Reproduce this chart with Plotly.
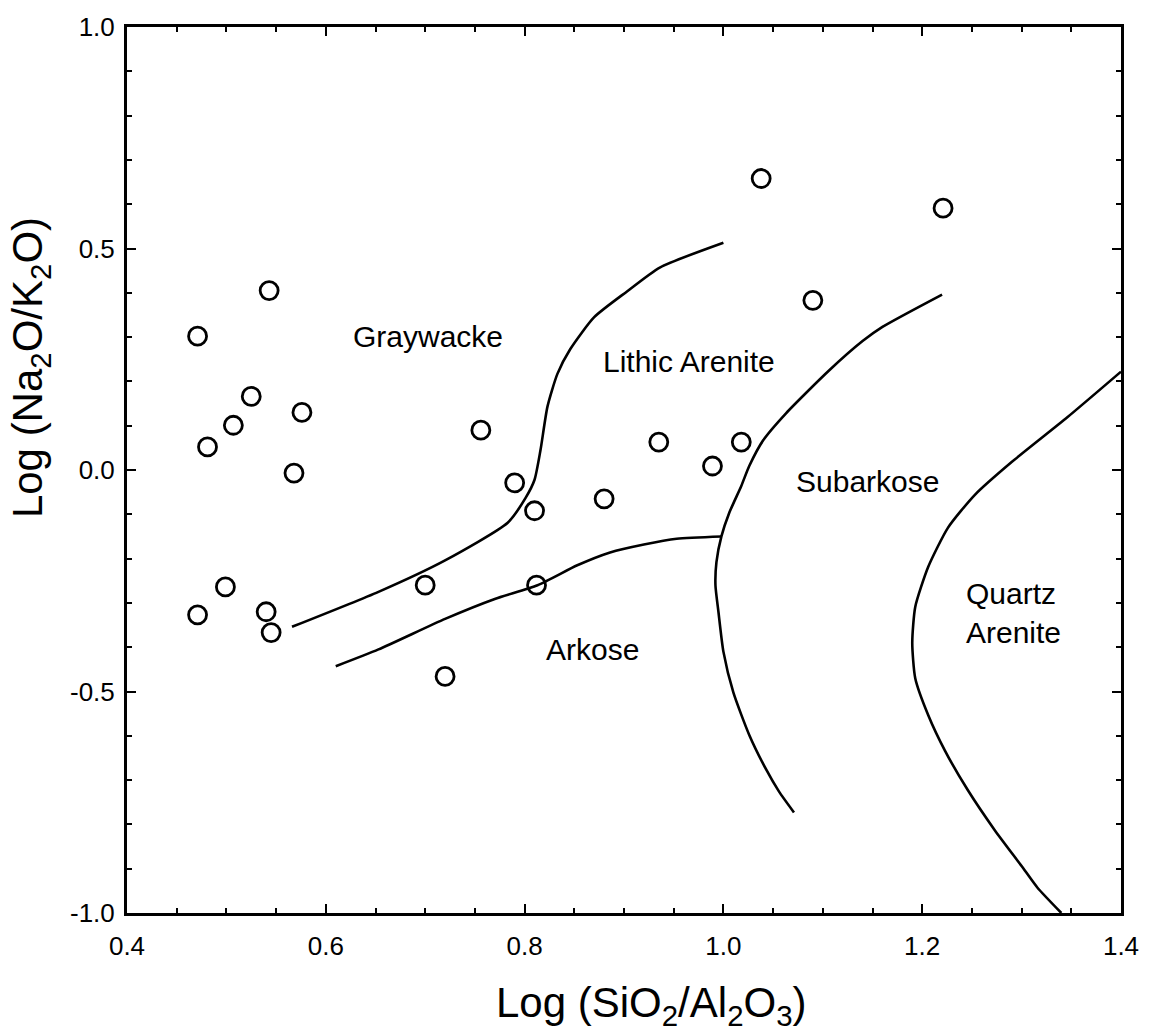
import plotly.graph_objects as go

# Sample compositions: log(SiO2/Al2O3) vs log(Na2O/K2O)
sample_x = [0.471, 0.543, 0.525, 0.576, 0.507, 0.481, 0.568, 0.499, 0.471, 0.540,
            0.545, 0.700, 0.720, 0.756, 0.790, 0.810, 0.812, 0.880, 0.935, 0.989,
            1.018, 1.038, 1.090, 1.221]
sample_y = [0.302, 0.405, 0.166, 0.130, 0.101, 0.052, -0.007, -0.264, -0.327, -0.320,
            -0.367, -0.260, -0.466, 0.090, -0.029, -0.092, -0.260, -0.065, 0.063, 0.009,
            0.063, 0.658, 0.383, 0.591]

# Field boundaries
graywacke_x = [0.566, 0.653, 0.720, 0.783, 0.801, 0.810, 0.816, 0.823, 0.833, 0.846,
               0.870, 0.903, 0.936, 1.000]
graywacke_y = [-0.354, -0.275, -0.204, -0.119, -0.063, -0.022, 0.045, 0.143, 0.217, 0.273,
               0.345, 0.403, 0.457, 0.513]

arkose_x = [0.610, 0.653, 0.720, 0.770, 0.813, 0.853, 0.886, 0.920, 0.953, 0.998]
arkose_y = [-0.443, -0.405, -0.336, -0.291, -0.260, -0.215, -0.186, -0.168, -0.155, -0.150]

subarkose_x = [1.220, 1.160, 1.140, 1.106, 1.063, 1.040, 1.026, 1.018, 1.006, 0.998,
               0.993, 0.992, 0.995, 1.000, 1.010, 1.026, 1.043, 1.056, 1.071]
subarkose_y = [0.396, 0.323, 0.291, 0.224, 0.128, 0.067, 0.009, -0.036, -0.096, -0.150,
               -0.208, -0.260, -0.320, -0.410, -0.502, -0.598, -0.676, -0.726, -0.773]

quartz_x = [1.400, 1.346, 1.290, 1.253, 1.226, 1.206, 1.193, 1.190, 1.193, 1.206,
            1.223, 1.246, 1.273, 1.300, 1.316, 1.340]
quartz_y = [0.222, 0.119, 0.018, -0.056, -0.130, -0.219, -0.309, -0.390, -0.470, -0.553,
            -0.634, -0.723, -0.813, -0.894, -0.943, -1.000]

# Field names and their anchor positions
field_names = ["Graywacke", "Lithic Arenite", "Subarkose", "Arkose", "Quartz<br>Arenite"]
field_x = [0.703, 0.965, 1.145, 0.868, 1.292]
field_y = [0.302, 0.245, -0.025, -0.405, -0.322]

x_ticks = [0.4, 0.6, 0.8, 1.0, 1.2, 1.4]
x_tick_text = ["0.4", "0.6", "0.8", "1.0", "1.2", "1.4"]
y_ticks = [1.0, 0.5, 0.0, -0.5, -1.0]
y_tick_text = ["1.0", "0.5", "0.0", "-0.5", "-1.0"]

FONT = "Liberation Sans, Arial, sans-serif"
LINE = dict(color="black", width=2.6)

fig = go.Figure()
for bx, by in [(graywacke_x, graywacke_y), (arkose_x, arkose_y),
               (subarkose_x, subarkose_y), (quartz_x, quartz_y)]:
    fig.add_trace(go.Scatter(x=bx, y=by, mode="lines",
                             line=dict(LINE, shape="spline", smoothing=0.6),
                             showlegend=False, hoverinfo="skip"))

fig.add_trace(go.Scatter(
    x=sample_x, y=sample_y, mode="markers",
    marker=dict(symbol="circle-open", size=18, color="black", line=dict(width=2.8)),
    showlegend=False,
))

for name, fx, fy in zip(field_names, field_x, field_y):
    fig.add_annotation(x=fx, y=fy, text=name, showarrow=False,
                       xanchor="center", yanchor="middle",
                       font=dict(family=FONT, size=30, color="black"),
                       align="left")

axis_common = dict(
    showgrid=False, zeroline=False,
    showline=True, linecolor="black", linewidth=3, mirror="allticks",
    ticks="inside", ticklen=9, tickwidth=2, tickcolor="black",
    tickfont=dict(family=FONT, size=26, color="black"),
)

fig.update_xaxes(
    range=[0.4, 1.4], tickvals=x_ticks, ticktext=x_tick_text,
    minor=dict(ticks="inside", dtick=0.05, tick0=0.4, ticklen=5, tickwidth=2,
               tickcolor="black", showgrid=False),
    ticklabelstandoff=8,
    **axis_common,
)
fig.update_yaxes(
    range=[-1.0, 1.0], tickvals=y_ticks, ticktext=y_tick_text,
    minor=dict(ticks="inside", dtick=0.1, tick0=0.0, ticklen=5, tickwidth=2,
               tickcolor="black", showgrid=False),
    ticklabelstandoff=4,
    **axis_common,
)

# Axis titles
fig.add_annotation(xref="paper", yref="paper", x=0.528, y=0, yshift=-92,
                   xanchor="center", yanchor="middle",
                   text="Log (SiO<sub>2</sub>/Al<sub>2</sub>O<sub>3</sub>)",
                   showarrow=False, font=dict(family=FONT, size=42, color="black"))
fig.add_annotation(xref="paper", yref="paper", x=0, y=0.615, xshift=-97,
                   xanchor="center", yanchor="middle",
                   text="Log (Na<sub>2</sub>O/K<sub>2</sub>O)", textangle=-90,
                   showarrow=False, font=dict(family=FONT, size=42, color="black"))

fig.update_layout(
    width=1151, height=1032,
    margin=dict(l=127, r=24, t=20, b=119),
    paper_bgcolor="white", plot_bgcolor="white",
    font=dict(family=FONT, color="black"),
)

fig.write_html("out.html")
